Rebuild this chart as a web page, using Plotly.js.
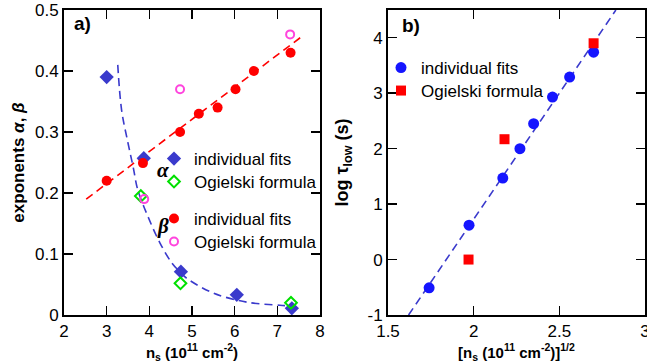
<!DOCTYPE html>
<html>
<head>
<meta charset="utf-8">
<script src="https://cdn.plot.ly/plotly-3.0.1.min.js"></script>
<style>html,body{margin:0;padding:0;background:#fff;}#chart{width:647px;height:364px;}</style>
</head>
<body>
<div id="chart"></div>
<script>
// ---- Panel a) data ----
const alphaFitX = [3.0, 3.87, 4.74, 6.05, 7.34];
const alphaFitY = [0.39, 0.257, 0.071, 0.033, 0.011];
const alphaOgX = [3.8, 4.73, 7.32];
const alphaOgY = [0.195, 0.052, 0.02];
const betaFitX = [3.0, 3.85, 4.72, 5.16, 5.6, 6.02, 6.45, 7.31];
const betaFitY = [0.22, 0.249, 0.30, 0.33, 0.34, 0.37, 0.40, 0.43];
const betaOgX = [3.88, 4.72, 7.3];
const betaOgY = [0.19, 0.37, 0.46];
const betaLineX = [2.52, 7.62];
const betaLineY = [0.19, 0.459];
const alphaCurveX = [3.26, 3.35, 3.50, 3.62, 3.73, 3.97, 4.25, 4.53, 4.72, 4.88, 5.5, 6.29, 7.06, 7.3];
const alphaCurveY = [0.41, 0.336, 0.282, 0.243, 0.205, 0.161, 0.118, 0.085, 0.0705, 0.060, 0.036, 0.021, 0.016, 0.015];
const aXTicks = [2, 3, 4, 5, 6, 7, 8];
const aYTicks = [0, 0.1, 0.2, 0.3, 0.4, 0.5];
const aYTickText = ['0', '0.1', '0.2', '0.3', '0.4', '0.5'];

// ---- Panel b) data ----
const tauFitX = [1.74, 1.973, 2.17, 2.27, 2.35, 2.46, 2.56, 2.70];
const tauFitY = [-0.51, 0.62, 1.47, 2.0, 2.45, 2.93, 3.29, 3.74];
const tauOgX = [1.97, 2.18, 2.70];
const tauOgY = [0.0, 2.17, 3.9];
const tauLineX = [1.62, 2.83];
const tauLineY = [-1.0, 4.5];
const bXTicks = [1.5, 2, 2.5, 3];
const bXTickText = ['1.5', '2', '2.5', '3'];
const bYTicks = [-1, 0, 1, 2, 3, 4];
const bYTickText = ['-1', '0', '1', '2', '3', '4'];

const FONT = 'Liberation Sans, Arial, sans-serif';
const BLUE_D = '#3a3acc';
const GREEN = '#00e000';
const RED = '#ff0000';
const MAGENTA = '#ff44dd';
const BLUE_C = '#1515ff';
const DASH = '8px,5px';

const traces = [
  {x: betaLineX, y: betaLineY, mode: 'lines', line: {color: RED, width: 1.6, dash: DASH}, showlegend: false, xaxis: 'x', yaxis: 'y', hoverinfo: 'skip'},
  {x: alphaCurveX, y: alphaCurveY, mode: 'lines', line: {color: BLUE_D, width: 1.6, dash: DASH, shape: 'spline'}, showlegend: false, xaxis: 'x', yaxis: 'y', hoverinfo: 'skip'},
  {x: alphaFitX, y: alphaFitY, mode: 'markers', name: 'individual fits', marker: {symbol: 'diamond', size: 11, color: BLUE_D}, legend: 'legend', xaxis: 'x', yaxis: 'y'},
  {x: alphaOgX, y: alphaOgY, mode: 'markers', name: 'Ogielski formula', marker: {symbol: 'diamond-open', size: 9, color: GREEN, line: {width: 2, color: GREEN}}, legend: 'legend2', xaxis: 'x', yaxis: 'y'},
  {x: betaFitX, y: betaFitY, mode: 'markers', name: 'individual fits', marker: {symbol: 'circle', size: 10, color: RED}, legend: 'legend3', xaxis: 'x', yaxis: 'y'},
  {x: betaOgX, y: betaOgY, mode: 'markers', name: 'Ogielski formula', marker: {symbol: 'circle-open', size: 8, color: MAGENTA, line: {width: 2, color: MAGENTA}}, legend: 'legend4', xaxis: 'x', yaxis: 'y'},
  {x: tauLineX, y: tauLineY, mode: 'lines', line: {color: BLUE_D, width: 1.6, dash: DASH}, showlegend: false, xaxis: 'x2', yaxis: 'y2', hoverinfo: 'skip'},
  {x: tauFitX, y: tauFitY, mode: 'markers', name: 'individual fits', marker: {symbol: 'circle', size: 11, color: BLUE_C}, legend: 'legend5', xaxis: 'x2', yaxis: 'y2'},
  {x: tauOgX, y: tauOgY, mode: 'markers', name: 'Ogielski formula', marker: {symbol: 'square', size: 10, color: RED}, legend: 'legend6', xaxis: 'x2', yaxis: 'y2'}
];

const axisCommon = {
  showline: true, linecolor: '#000', linewidth: 2, mirror: 'ticks',
  ticks: 'inside', ticklen: 9, tickwidth: 1.5, tickcolor: '#000',
  showgrid: false, zeroline: false, ticklabeloverflow: 'allow',
  tickfont: {family: FONT, size: 17, color: '#000'}
};

function leg(px, topPy) {
  return {
    bgcolor: 'rgba(0,0,0,0)', borderwidth: 0, xanchor: 'left', yanchor: 'top',
    font: {family: FONT, size: 17, color: '#000'}, traceorder: 'normal',
    x: px / 647, y: (315 - topPy) / 305
  };
}

const layout = {
  width: 647, height: 364,
  margin: {l: 0, r: 0, t: 10, b: 49},
  paper_bgcolor: '#fff', plot_bgcolor: '#fff',
  font: {family: FONT, color: '#000'},
  xaxis: Object.assign({}, axisCommon, {
    domain: [64/647, 320/647], range: [2, 8], tickvals: aXTicks, anchor: 'y',
    title: {text: '<b>n<sub>s</sub> (10<sup>11</sup> cm<sup>-2</sup>)</b>', font: {family: FONT, size: 15}, standoff: 4}
  }),
  yaxis: Object.assign({}, axisCommon, {
    domain: [0, 1], range: [0, 0.5], tickvals: aYTicks, ticktext: aYTickText, anchor: 'x',
    title: {text: '<b>exponents <i>α</i>, <i>β</i></b>', font: {family: FONT, size: 17}, standoff: 6}
  }),
  xaxis2: Object.assign({}, axisCommon, {
    domain: [388/647, 645/647], range: [1.5, 3], tickvals: bXTicks, ticktext: bXTickText, anchor: 'y2',
    title: {text: '<b>[n<sub>s</sub> (10<sup>11</sup> cm<sup>-2</sup>)]<sup>1/2</sup></b>', font: {family: FONT, size: 15}, standoff: 4}
  }),
  yaxis2: Object.assign({}, axisCommon, {
    domain: [0, 1], range: [-1, 4.5], tickvals: bYTicks, ticktext: bYTickText, anchor: 'x2',
    title: {text: '<b>log τ<sub>low</sub> (s)</b>', font: {family: FONT, size: 18}, standoff: 14}
  }),
  legend: leg(154, 141),
  legend2: leg(154, 164),
  legend3: leg(154, 201),
  legend4: leg(154, 224),
  legend5: leg(381, 50),
  legend6: leg(381, 73),
  annotations: [
    {text: '<b>a)</b>', xref: 'paper', yref: 'paper', x: 72/647, y: (315-23)/305, xanchor: 'left', yanchor: 'middle', showarrow: false, font: {family: FONT, size: 19, color: '#000'}},
    {text: '<b>b)</b>', xref: 'paper', yref: 'paper', x: 400/647, y: (315-25)/305, xanchor: 'left', yanchor: 'middle', showarrow: false, font: {family: FONT, size: 19, color: '#000'}},
    {text: '<b><i>α</i></b>', xref: 'paper', yref: 'paper', x: 163/647, y: (315-170)/305, xanchor: 'center', yanchor: 'middle', showarrow: false, font: {family: 'Liberation Serif, serif', size: 21, color: '#000'}},
    {text: '<b><i>β</i></b>', xref: 'paper', yref: 'paper', x: 163/647, y: (315-226)/305, xanchor: 'center', yanchor: 'middle', showarrow: false, font: {family: 'Liberation Serif, serif', size: 21, color: '#000'}}
  ]
};

Plotly.newPlot('chart', traces, layout, {displayModeBar: false, staticPlot: true});
</script>
</body>
</html>
